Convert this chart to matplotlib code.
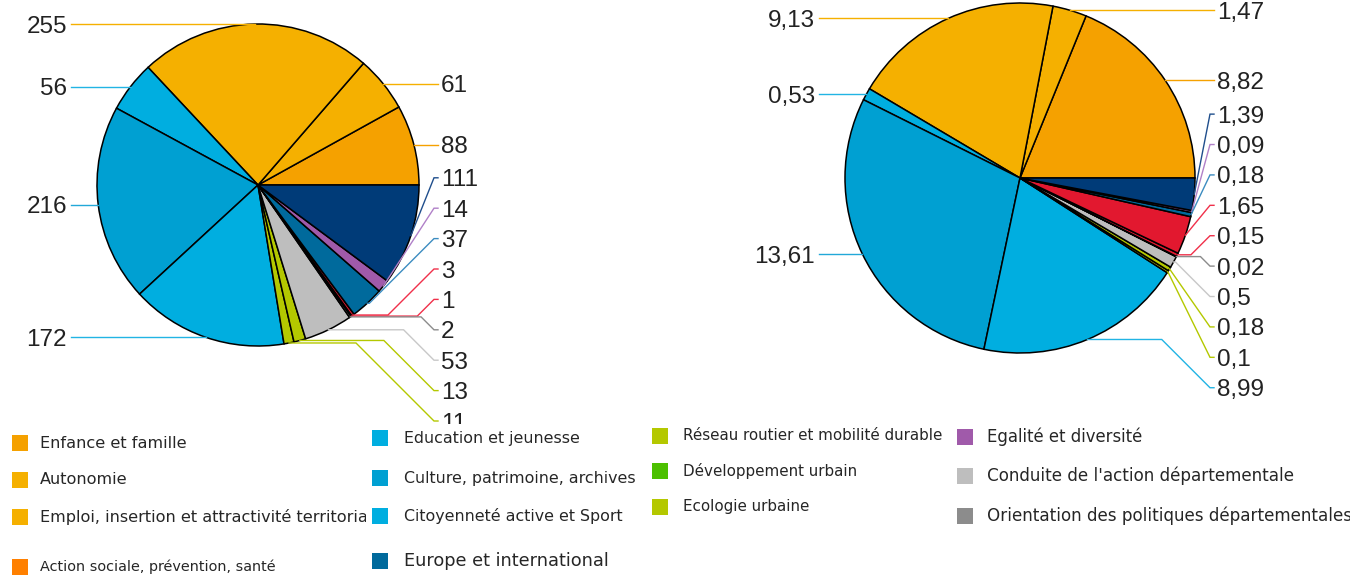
import numpy as np
import matplotlib
matplotlib.use("Agg")
import matplotlib.pyplot as plt
from matplotlib.patches import Rectangle

# ---------------- data ----------------
left_values = [88, 61, 255, 56, 216, 172, 11, 13, 53, 2, 1, 3, 37, 14, 111]
right_values = [8.82, 1.47, 9.13, 0.53, 13.61, 8.99, 0.1, 0.18, 0.5, 0.02, 0.15, 1.65, 0.18, 0.09, 1.39]
slice_colors = ['#F5A100', '#F5B000', '#F5B000', '#00AEE0', '#00A0D2', '#00AEE0',
                '#B4C800', '#B4C800', '#BEBEBE', '#8C8C8C', '#E2182F', '#E2182F',
                '#006A9C', '#A05AAA', '#003B78']
line_colors = ['#F5A100', '#F5B000', '#F5B000', '#22B4E4', '#22A8D8', '#22B4E4',
               '#B4C800', '#B4C800', '#C8C8C8', '#8C8C8C', '#F0304A', '#F0304A',
               '#3C8CC0', '#B080C8', '#1F4E8C']

legend_labels = ["Enfance et famille", "Autonomie",
                 "Emploi, insertion et attractivité territoriale",
                 "Action sociale, prévention, santé",
                 "Education et jeunesse", "Culture, patrimoine, archives",
                 "Citoyenneté active et Sport", "Europe et international",
                 "Réseau routier et mobilité durable", "Développement urbain",
                 "Ecologie urbaine",
                 "Egalité et diversité", "Conduite de l'action départementale",
                 "Orientation des politiques départementales"]
legend_colors = ['#F5A100', '#F5B000', '#F5B000', '#FF8000',
                 '#00AEE0', '#00A0D2', '#00AEE0', '#006A9C',
                 '#B4C800', '#4CC000', '#B4C800',
                 '#A05AAA', '#BEBEBE', '#8C8C8C']

# ---------------- layout ----------------
W, H = 1350, 575
fig = plt.figure(figsize=(W / 100, H / 100), dpi=100)
ax = fig.add_axes([0, 0, 1, 1])

LABEL_FONT = ['Liberation Sans', 'DejaVu Sans']
LEGEND_FONT = ['DejaVu Sans']
PLOT_BOTTOM = 424
GAP = 30.4

clip_pie = Rectangle((0, 0), W, PLOT_BOTTOM, transform=ax.transData)


def fmt(v):
    return format(v, 'g').replace('.', ',')


def spread(ys, gap, ymax):
    blocks = []
    for y in ys:
        blocks.append([1, y])
        while len(blocks) > 1:
            n1, s1 = blocks[-2]
            n2, s2 = blocks[-1]
            if s2 < s1 + n1 * gap:
                n = n1 + n2
                blocks[-2] = [n, (s1 * n1 + (s2 - n1 * gap) * n2) / n]
                blocks.pop()
            else:
                break
    out = []
    for n, s in blocks:
        out += [s + k * gap for k in range(n)]
    n = len(out)
    for j in range(n - 1, -1, -1):
        out[j] = min(out[j], ymax - (n - 1 - j) * gap)
    return out


def draw_pie(values, cx, cy, r):
    # visual counter-clockwise from 3 o'clock; y axis is inverted
    ax.pie(values, colors=slice_colors, center=(cx, cy), radius=r,
           startangle=0, counterclock=False, normalize=True,
           wedgeprops=dict(edgecolor='black', linewidth=1.1))
    vals = np.array(values, dtype=float)
    cum = np.concatenate([[0], np.cumsum(vals)]) / vals.sum() * 360
    mids = np.radians((cum[:-1] + cum[1:]) / 2)
    axs = cx + r * np.cos(mids)
    ays = cy - r * np.sin(mids)
    for side in (1, -1):
        idx = [i for i in range(len(vals)) if (np.cos(mids[i]) >= 0) == (side == 1)]
        idx.sort(key=lambda i: ays[i])
        lys = spread([ays[i] for i in idx], GAP, PLOT_BOTTOM - 3)
        for i, ly in zip(idx, lys):
            if side == 1:
                lx = cx + r + 19
                tx = cx + r + 22
                ha = 'left'
            else:
                lx = cx - r - 26
                tx = cx - r - 30
                ha = 'right'
            dy = abs(ly - ays[i])
            tip = lx - side * 4
            knee = tip - side * dy
            if dy < 1.0:
                pts = [(axs[i], ays[i]), (lx, ly)]
            elif side * (knee - axs[i]) > 0:
                pts = [(axs[i], ays[i]), (knee, ays[i]), (tip, ly), (lx, ly)]
            else:
                pts = [(axs[i], ays[i]), (tip, ly), (lx, ly)]
            xs, ys = zip(*pts)
            ln, = ax.plot(xs, ys, color=line_colors[i], lw=1.0, zorder=1,
                          solid_joinstyle='miter')
            ln.set_clip_path(clip_pie)
            t = ax.text(tx, ly, fmt(values[i]), ha=ha, va='center_baseline',
                        fontsize=17.5, family=LABEL_FONT, color='#222222')
            t.set_clip_on(True)
            t.set_clip_path(clip_pie)


draw_pie(left_values, 258, 185, 161)
draw_pie(right_values, 1020, 178, 175)

# ---------------- legend ----------------
col_marker_x = [12, 372, 652, 957]
col_text_x = [40, 404, 683, 987]
col_rows = [[443, 480, 517, 567], [438, 478, 516, 561], [436, 471, 507], [437, 476, 516]]
col_sizes = [[11.6, 11.6, 11.6, 10.4], [11.4, 11.4, 11.4, 12.8], [10.9, 10.9, 10.9], [11.9, 12.1, 12.1]]
k = 0
for c in range(4):
    for rr, ys in enumerate(col_rows[c]):
        ms = 16
        ax.add_patch(Rectangle((col_marker_x[c], ys - ms / 2), ms, ms,
                               facecolor=legend_colors[k], edgecolor='none'))
        t = ax.text(col_text_x[c], ys, legend_labels[k], ha='left', va='center',
                    fontsize=col_sizes[c][rr], family=LEGEND_FONT, color='#262626')
        if c == 0:
            t.set_clip_on(True)
            t.set_clip_path(Rectangle((0, 0), 366, H, transform=ax.transData))
        k += 1

ax.set_aspect('auto')
ax.set_xlim(0, W)
ax.set_ylim(H, 0)
ax.axis('off')
fig.savefig('out.png', dpi=100, facecolor='white')
